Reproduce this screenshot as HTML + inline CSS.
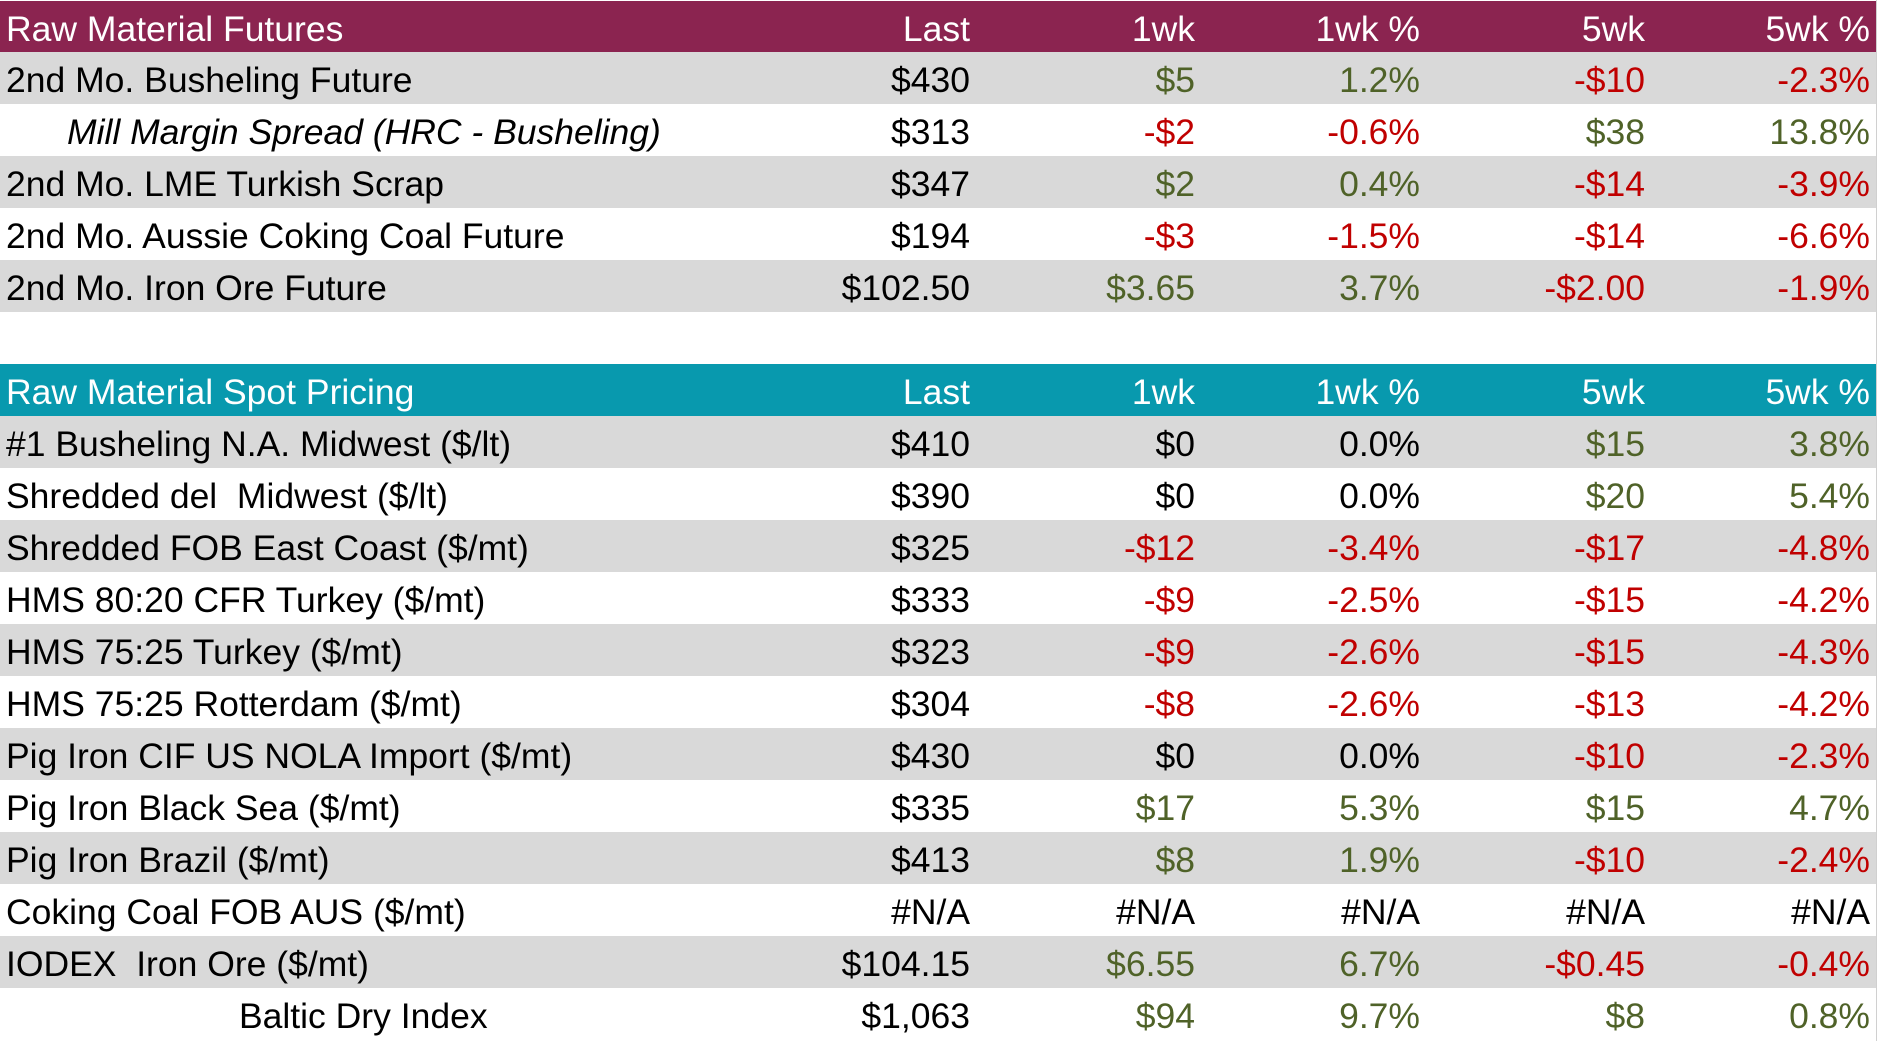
<!DOCTYPE html>
<html><head><meta charset="utf-8"><style>
body{margin:0;width:1877px;height:1041px;overflow:hidden;background:#fff;font-family:"Liberation Sans",Carlito,sans-serif;position:relative;}
.r{position:absolute;left:0;width:1877px;height:52.05px;font-size:35.5px;line-height:57px;}
.r span{position:absolute;top:0;white-space:nowrap;}
.l{left:6px}
.c1,.c2,.c3,.c4,.c5{text-align:right;width:300px}
.c1{left:670px}.c2{left:895px}.c3{left:1120px}.c4{left:1345px}.c5{left:1570px}
.g{background:#d9d9d9}
.h1{background:#8b2450;color:#fff}
.h2{background:#0899ae;color:#fff}
.gr{color:#4f6228}.rd{color:#c00000}
.edge{position:absolute;left:1876px;top:0;width:1px;height:1041px;background:#d0d0d0}
</style></head><body>
<div class="r h1" style="top:1px;height:51px"><span class="l">Raw Material Futures</span><span class="c1">Last</span><span class="c2">1wk</span><span class="c3">1wk %</span><span class="c4">5wk</span><span class="c5">5wk %</span></div>
<div class="r g" style="top:52px"><span class="l">2nd Mo. Busheling Future</span><span class="c1">$430</span><span class="c2 gr">$5</span><span class="c3 gr">1.2%</span><span class="c4 rd">-$10</span><span class="c5 rd">-2.3%</span></div>
<div class="r" style="top:104px"><span class="l" style="left:67px;font-style:italic">Mill Margin Spread (HRC - Busheling)</span><span class="c1">$313</span><span class="c2 rd">-$2</span><span class="c3 rd">-0.6%</span><span class="c4 gr">$38</span><span class="c5 gr">13.8%</span></div>
<div class="r g" style="top:156px"><span class="l">2nd Mo. LME Turkish Scrap</span><span class="c1">$347</span><span class="c2 gr">$2</span><span class="c3 gr">0.4%</span><span class="c4 rd">-$14</span><span class="c5 rd">-3.9%</span></div>
<div class="r" style="top:208px"><span class="l">2nd Mo. Aussie Coking Coal Future</span><span class="c1">$194</span><span class="c2 rd">-$3</span><span class="c3 rd">-1.5%</span><span class="c4 rd">-$14</span><span class="c5 rd">-6.6%</span></div>
<div class="r g" style="top:260px"><span class="l">2nd Mo. Iron Ore Future</span><span class="c1">$102.50</span><span class="c2 gr">$3.65</span><span class="c3 gr">3.7%</span><span class="c4 rd">-$2.00</span><span class="c5 rd">-1.9%</span></div>
<div class="r h2" style="top:364px"><span class="l">Raw Material Spot Pricing</span><span class="c1">Last</span><span class="c2">1wk</span><span class="c3">1wk %</span><span class="c4">5wk</span><span class="c5">5wk %</span></div>
<div class="r g" style="top:416px"><span class="l">#1 Busheling N.A. Midwest ($/lt)</span><span class="c1">$410</span><span class="c2">$0</span><span class="c3">0.0%</span><span class="c4 gr">$15</span><span class="c5 gr">3.8%</span></div>
<div class="r" style="top:468px"><span class="l">Shredded del&nbsp; Midwest ($/lt)</span><span class="c1">$390</span><span class="c2">$0</span><span class="c3">0.0%</span><span class="c4 gr">$20</span><span class="c5 gr">5.4%</span></div>
<div class="r g" style="top:520px"><span class="l">Shredded FOB East Coast ($/mt)</span><span class="c1">$325</span><span class="c2 rd">-$12</span><span class="c3 rd">-3.4%</span><span class="c4 rd">-$17</span><span class="c5 rd">-4.8%</span></div>
<div class="r" style="top:572px"><span class="l">HMS 80:20 CFR Turkey ($/mt)</span><span class="c1">$333</span><span class="c2 rd">-$9</span><span class="c3 rd">-2.5%</span><span class="c4 rd">-$15</span><span class="c5 rd">-4.2%</span></div>
<div class="r g" style="top:624px"><span class="l">HMS 75:25 Turkey ($/mt)</span><span class="c1">$323</span><span class="c2 rd">-$9</span><span class="c3 rd">-2.6%</span><span class="c4 rd">-$15</span><span class="c5 rd">-4.3%</span></div>
<div class="r" style="top:676px"><span class="l">HMS 75:25 Rotterdam ($/mt)</span><span class="c1">$304</span><span class="c2 rd">-$8</span><span class="c3 rd">-2.6%</span><span class="c4 rd">-$13</span><span class="c5 rd">-4.2%</span></div>
<div class="r g" style="top:728px"><span class="l">Pig Iron CIF US NOLA Import ($/mt)</span><span class="c1">$430</span><span class="c2">$0</span><span class="c3">0.0%</span><span class="c4 rd">-$10</span><span class="c5 rd">-2.3%</span></div>
<div class="r" style="top:780px"><span class="l">Pig Iron Black Sea ($/mt)</span><span class="c1">$335</span><span class="c2 gr">$17</span><span class="c3 gr">5.3%</span><span class="c4 gr">$15</span><span class="c5 gr">4.7%</span></div>
<div class="r g" style="top:832px"><span class="l">Pig Iron Brazil ($/mt)</span><span class="c1">$413</span><span class="c2 gr">$8</span><span class="c3 gr">1.9%</span><span class="c4 rd">-$10</span><span class="c5 rd">-2.4%</span></div>
<div class="r" style="top:884px"><span class="l">Coking Coal FOB AUS ($/mt)</span><span class="c1">#N/A</span><span class="c2">#N/A</span><span class="c3">#N/A</span><span class="c4">#N/A</span><span class="c5">#N/A</span></div>
<div class="r g" style="top:936px"><span class="l">IODEX&nbsp; Iron Ore ($/mt)</span><span class="c1">$104.15</span><span class="c2 gr">$6.55</span><span class="c3 gr">6.7%</span><span class="c4 rd">-$0.45</span><span class="c5 rd">-0.4%</span></div>
<div class="r" style="top:988px"><span class="l" style="left:239px">Baltic Dry Index</span><span class="c1">$1,063</span><span class="c2 gr">$94</span><span class="c3 gr">9.7%</span><span class="c4 gr">$8</span><span class="c5 gr">0.8%</span></div>
<div class="edge"></div>
</body></html>
